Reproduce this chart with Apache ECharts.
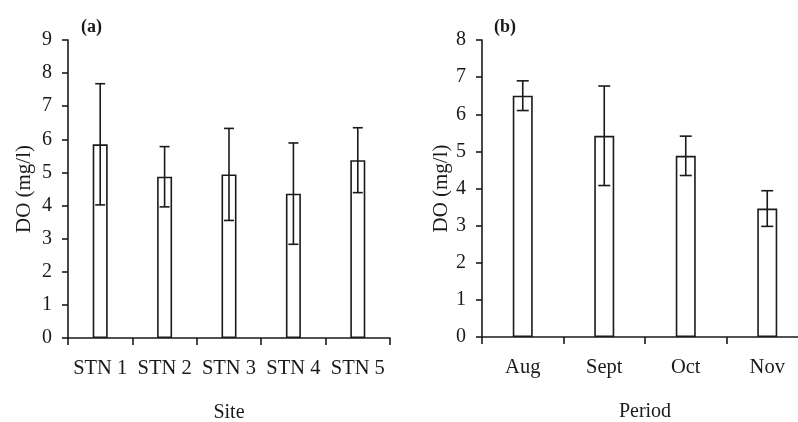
<!DOCTYPE html>
<html>
<head>
<meta charset="utf-8">
<script src="https://cdn.jsdelivr.net/npm/echarts@6/dist/echarts.min.js"></script>
<style>html,body{margin:0;padding:0;background:#fff}#c{width:798px;height:422px}</style>
</head>
<body>
<div id="c"></div>
<script>
const sites = ['STN 1', 'STN 2', 'STN 3', 'STN 4', 'STN 5'];
const siteMean = [5.85, 4.87, 4.94, 4.36, 5.37];
const siteSD = [1.83, 0.91, 1.39, 1.53, 0.98];
const periods = ['Aug', 'Sept', 'Oct', 'Nov'];
const periodMean = [6.5, 5.42, 4.88, 3.46];
const periodSD = [0.4, 1.34, 0.53, 0.48];

const FONT = '"Liberation Serif", "Times New Roman", serif';
const INK = '#1a1a1a';

function errData(means, sds) {
  return means.map((m, i) => [i, m - sds[i], m + sds[i]]);
}
function errSeries(idx, data, half) {
  return {
    type: 'custom', xAxisIndex: idx, yAxisIndex: idx, z: 5, silent: true,
    renderItem: function (params, api) {
      const lo = api.coord([api.value(0), api.value(1)]);
      const hi = api.coord([api.value(0), api.value(2)]);
      const st = { stroke: INK, lineWidth: 1.6 };
      return { type: 'group', children: [
        { type: 'line', shape: { x1: lo[0], y1: lo[1], x2: hi[0], y2: hi[1] }, style: st },
        { type: 'line', shape: { x1: hi[0] - half, y1: hi[1], x2: hi[0] + half, y2: hi[1] }, style: st },
        { type: 'line', shape: { x1: lo[0] - half, y1: lo[1], x2: lo[0] + half, y2: lo[1] }, style: st }
      ]};
    },
    data: data
  };
}
function xAx(idx, cats, name) {
  return {
    type: 'category', gridIndex: idx, data: cats, boundaryGap: true,
    name: name, nameLocation: 'middle', nameGap: 65,
    nameTextStyle: { fontFamily: FONT, fontSize: 20, color: INK },
    axisLine: { lineStyle: { color: INK, width: 1.6 } },
    axisTick: { show: true, length: 7, inside: false, lineStyle: { color: INK, width: 1.6 } },
    axisLabel: { fontFamily: FONT, fontSize: 20.5, color: INK, margin: 20, interval: 0 },
    splitLine: { show: false }
  };
}
function yAx(idx, max, gap) {
  return {
    type: 'value', gridIndex: idx, min: 0, max: max, interval: 1,
    name: 'DO (mg/l)', nameLocation: 'middle', nameGap: gap, nameRotate: 90,
    nameTextStyle: { fontFamily: FONT, fontSize: 21, color: INK },
    axisLine: { show: true, lineStyle: { color: INK, width: 1.6 } },
    axisTick: { show: true, length: 6, lineStyle: { color: INK, width: 1.6 } },
    axisLabel: { fontFamily: FONT, fontSize: 20, color: INK, margin: 16 },
    splitLine: { show: false }
  };
}

const chart = echarts.init(document.getElementById('c'), null, { renderer: 'canvas' });
chart.setOption({
  animation: false,
  backgroundColor: '#fff',
  title: [
    { text: '(a)', left: 76, top: 13, textStyle: { fontFamily: FONT, fontSize: 18, fontWeight: 'bold', color: INK } },
    { text: '(b)', left: 489, top: 13, textStyle: { fontFamily: FONT, fontSize: 18, fontWeight: 'bold', color: INK } }
  ],
  grid: [
    { left: 68, top: 40, width: 322, height: 298, containLabel: false, outerBoundsMode: 'none' },
    { left: 482, top: 40, width: 326, height: 297, containLabel: false, outerBoundsMode: 'none' }
  ],
  xAxis: [xAx(0, sites, 'Site'), xAx(1, periods, 'Period')],
  yAxis: [yAx(0, 9, 33), yAx(1, 8, 30)],
  series: [
    { type: 'bar', xAxisIndex: 0, yAxisIndex: 0, data: siteMean, barWidth: 15,
      itemStyle: { color: '#fff', borderColor: INK, borderWidth: 1.6 } },
    { type: 'bar', xAxisIndex: 1, yAxisIndex: 1, data: periodMean, barWidth: 20,
      itemStyle: { color: '#fff', borderColor: INK, borderWidth: 1.6 } },
    errSeries(0, errData(siteMean, siteSD), 5),
    errSeries(1, errData(periodMean, periodSD), 6)
  ]
});
</script>
</body>
</html>
